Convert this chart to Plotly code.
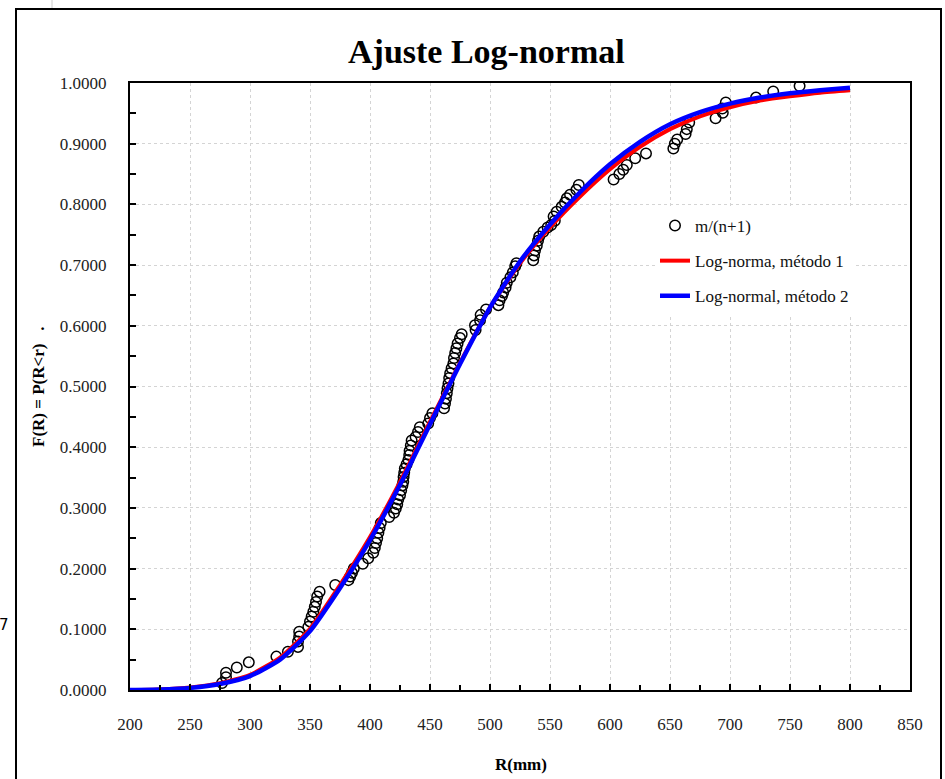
import plotly.graph_objects as go

# Observed plotting positions m/(n+1)
R_obs = [276.7, 280, 280, 289, 299, 322, 331.6, 340, 340, 341,
         341, 348.6, 350, 351.4, 352.8, 354, 355, 356, 358, 371,
         382, 383.5, 385, 386.5, 394, 398.5, 402.7, 404, 405, 406,
         407, 408, 409, 416, 420, 421.5, 422.7, 423.5, 425, 426,
         427, 427.7, 428, 428.5, 429, 430.5, 432, 432.7, 433, 434,
         434.7, 438, 440, 441.5, 448.5, 450, 452, 461.7, 462.5, 463.3,
         464, 464.6, 465.4, 466, 466.8, 468, 469.5, 470, 471, 472,
         473, 475, 476.4, 488, 487.5, 491.7, 492.2, 496.7, 507, 508,
         510, 511, 513, 514, 517, 519, 521, 522, 536, 536.7,
         537.5, 539, 540, 541, 544.4, 548, 551, 554, 553, 555.6,
         559.7, 562.5, 564, 566.7, 572, 574, 603, 607.8, 611, 614,
         621, 630, 652.8, 654, 656, 663, 664, 666, 688, 694,
         693.6, 696.5, 721.7, 736, 758]
F_obs = [.0115, .021, .0285, .037, .0456, .055, .063, .071, .080, .088,
         .096, .104, .113, .121, .129, .137, .145, .154, .162, .173,
         .181, .187, .193, .200, .208, .217, .226, .234, .242, .250,
         .259, .267, .275, .285, .292, .299, .306, .314, .321, .329,
         .337, .343, .351, .358, .365, .372, .379, .387, .394, .403,
         .411, .417, .425, .433, .439, .448, .456, .464, .472, .480,
         .489, .497, .505, .514, .522, .530, .538, .547, .555, .563,
         .571, .580, .586, .593, .601, .609, .618, .627, .634, .642,
         .649, .655, .663, .671, .680, .688, .698, .703, .708, .716,
         .724, .732, .740, .747, .755, .762, .766, .773, .780, .788,
         .796, .803, .810, .816, .824, .832, .841, .850, .857, .865,
         .876, .884, .892, .900, .907, .916, .924, .935, .942, .951,
         .958, .968, .976, .986, .995]

# Fitted curves
R_fit = [200, 225, 250, 275, 300, 325, 350, 375, 400, 425, 450, 475, 500,
         525, 550, 575, 600, 625, 650, 675, 700, 725, 750, 775, 800]
F_met1 = [0.0001, 0.0010, 0.0040, 0.0110, 0.0250, 0.0535, 0.101, 0.173, 0.252,
          0.343, 0.442, 0.539, 0.630, 0.703, 0.762, 0.813, 0.858, 0.895, 0.924,
          0.945, 0.960, 0.971, 0.978, 0.984, 0.988]
F_met2 = [0.0001, 0.0008, 0.0035, 0.0100, 0.0230, 0.0500, 0.097, 0.168, 0.247,
          0.338, 0.438, 0.537, 0.630, 0.706, 0.767, 0.820, 0.866, 0.903, 0.932,
          0.952, 0.966, 0.976, 0.983, 0.988, 0.992]

x_ticks = [200, 250, 300, 350, 400, 450, 500, 550, 600, 650, 700, 750, 800, 850]
y_ticks = [0.0, 0.1, 0.2, 0.3, 0.4, 0.5, 0.6, 0.7, 0.8, 0.9, 1.0]
y_tick_labels = ["0.0000", "0.1000", "0.2000", "0.3000", "0.4000", "0.5000",
                 "0.6000", "0.7000", "0.8000", "0.9000", "1.0000"]

FONT = "Liberation Serif"
W, H = 945, 779
L, R, T, B = 130, 35, 83, 89
PW, PH = W - L - R, H - T - B


def px(xp):
    return (xp - L) / PW


def py(yp):
    return (H - B - yp) / PH


fig = go.Figure()
fig.add_trace(go.Scatter(
    x=R_obs, y=F_obs, mode="markers", name="m/(n+1)", legendgroup="a",
    marker=dict(symbol="circle-open", size=10.5, color="black",
                line=dict(color="black", width=1.5))))
fig.add_trace(go.Scatter(
    x=R_fit, y=F_met1, mode="lines", name="Log-norma, método 1", legendgroup="b",
    line=dict(color="#ff0000", width=4, shape="spline", smoothing=0.6)))
fig.add_trace(go.Scatter(
    x=R_fit, y=F_met2, mode="lines", name="Log-normal, método 2", legendgroup="c",
    line=dict(color="#0000ff", width=4.5, shape="spline", smoothing=0.6)))

axis_common = dict(
    showline=True, linecolor="black", linewidth=2, mirror=True,
    showgrid=True, gridcolor="#d4d4d4", gridwidth=1, griddash="dot",
    ticks="inside", ticklen=6, tickwidth=1.5, tickcolor="black",
    zeroline=False,
    tickfont=dict(family=FONT, size=17, color="#222222"),
)

fig.update_xaxes(range=[200, 850], tickvals=x_ticks, ticklabelstandoff=18,
                 minor=dict(ticks="inside", ticklen=5, tickwidth=1.5,
                            tickcolor="black", dtick=25, showgrid=False),
                 **axis_common)
fig.update_yaxes(range=[0, 1], tickvals=y_ticks, ticktext=y_tick_labels,
                 ticklabelstandoff=18,
                 minor=dict(ticks="inside", ticklen=6, tickwidth=1.5,
                            tickcolor="black", dtick=0.05, showgrid=False),
                 **axis_common)

fig.update_layout(
    width=W, height=H,
    margin=dict(l=L, r=R, t=T, b=B),
    paper_bgcolor="white", plot_bgcolor="white",
    font=dict(family=FONT, size=17, color="black"),
    showlegend=True,
    legend=dict(x=px(655), y=py(208), xanchor="left", yanchor="top",
                bgcolor="white", borderwidth=0, tracegroupgap=10,
                traceorder="grouped",
                font=dict(family=FONT, size=17, color="#111111")),
    annotations=[
        dict(text="<b>Ajuste Log-normal</b>", xref="paper", yref="paper",
             x=px(486), y=py(51), xanchor="center", yanchor="middle",
             showarrow=False, font=dict(family=FONT, size=34, color="black")),
        dict(text="<b>F(R) = P(R&lt;r)   .</b>", xref="paper", yref="paper",
             x=px(38), y=py(387), xanchor="center", yanchor="middle",
             textangle=-90, showarrow=False,
             font=dict(family=FONT, size=17, color="black")),
        dict(text="<b>R(mm)</b>", xref="paper", yref="paper",
             x=px(521), y=py(765), xanchor="center", yanchor="middle",
             showarrow=False, font=dict(family=FONT, size=17, color="black")),
        dict(text="7", xref="paper", yref="paper",
             x=px(11), y=py(625), xanchor="right", yanchor="middle",
             showarrow=False, font=dict(family="DejaVu Sans", size=15, color="black")),
    ],
    shapes=[
        dict(type="rect", xref="paper", yref="paper",
             x0=px(16), x1=px(941), y0=py(810), y1=py(9),
             line=dict(color="black", width=2), fillcolor="rgba(0,0,0,0)",
             layer="below"),
        dict(type="line", xref="paper", yref="paper",
             x0=px(52), x1=px(52), y0=py(8), y1=py(0),
             line=dict(color="#cccccc", width=1)),
    ],
)

fig.write_html("out.html")
